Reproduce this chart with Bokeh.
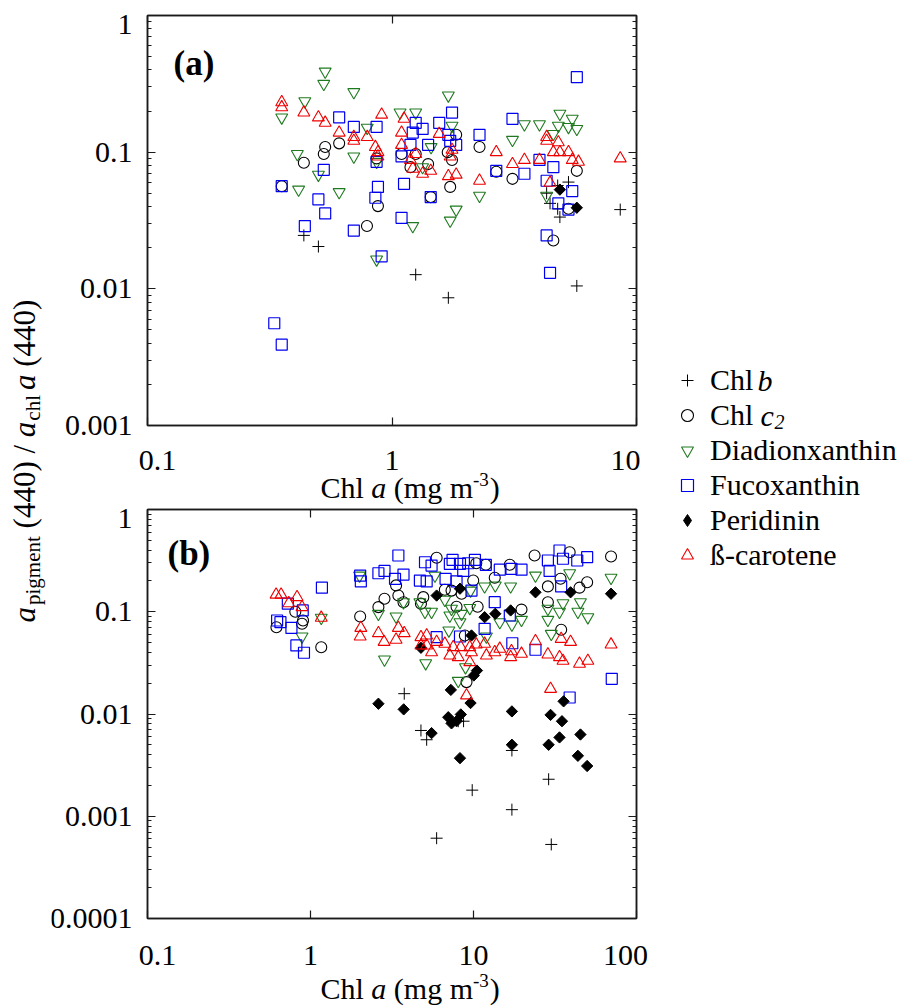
import math
from bokeh.plotting import figure
from bokeh.models import (Range1d, LogAxis, FixedTicker, CustomJSTickFormatter,
                          Label, Legend, LegendItem)
from bokeh.layouts import row, column
from bokeh.embed import file_html
from bokeh.resources import INLINE

FONT = "Liberation Serif"

# ---------------- data: panel (a) ----------------
a_chlb_x = [0.436, 0.50, 1.25, 1.70, 5.70, 5.27, 4.76, 4.29, 4.43, 4.76, 4.86, 8.58]
a_chlb_y = [0.0246, 0.0204, 0.0127, 0.0086, 0.0105, 0.0604, 0.057, 0.0501, 0.0422, 0.0385, 0.0335, 0.038]

a_chlc2_x = [0.608, 0.533, 0.526, 0.436, 0.354, 0.876, 0.79, 0.865, 1.83, 1.69, 1.76, 2.28, 1.094, 1.25,
             1.19, 1.405, 1.73, 1.44, 2.67, 3.11, 5.70, 5.27, 4.57]
a_chlc2_y = [0.116, 0.109, 0.097, 0.0836, 0.0564, 0.0403, 0.0288, 0.09, 0.134, 0.1, 0.0877, 0.109, 0.097, 0.097,
             0.0777, 0.0818, 0.0557, 0.0469, 0.072, 0.0638, 0.073, 0.0385, 0.0226]

a_diad_x = [0.533, 0.526, 0.698, 0.44, 0.354, 0.792, 1.079, 0.41, 0.698, 0.50, 0.865, 0.415, 0.608, 0.865,
            1.70, 1.25, 1.76, 1.445, 3.48, 4.01, 3.11, 4.86, 5.46, 5.70, 4.79, 5.27, 4.57, 1.334, 2.28, 1.83,
            1.73, 1.216, 4.29]
a_diad_y = [0.389, 0.316, 0.275, 0.236, 0.1795, 0.151, 0.195, 0.097, 0.093, 0.0684, 0.085, 0.0532, 0.051, 0.0164,
            0.26, 0.195, 0.156, 0.109, 0.16, 0.16, 0.123, 0.191, 0.1755, 0.148, 0.156, 0.153, 0.136, 0.0777, 0.048,
            0.038, 0.0316, 0.0288, 0.048]

a_fuco_x = [0.608, 0.698, 0.865, 0.526, 0.354, 0.50, 0.533, 0.876, 0.855, 0.44, 0.698, 0.865, 0.907, 0.33,
            0.354, 5.70, 1.76, 1.56, 1.25, 1.334, 1.216, 1.19, 1.094, 1.70, 1.73, 1.83, 2.28, 1.405, 3.11, 4.01,
            4.57, 3.48, 2.67, 4.29, 5.46, 1.12, 1.44, 1.094, 4.79, 5.27, 4.29, 4.43]
a_fuco_y = [0.1795, 0.153, 0.153, 0.0743, 0.0564, 0.0451, 0.0356, 0.0557, 0.0464, 0.0288, 0.0267, 0.085, 0.0173,
            0.0056, 0.0039, 0.354, 0.195, 0.164, 0.164, 0.148, 0.139, 0.113, 0.093, 0.134, 0.121, 0.113, 0.134,
            0.113, 0.1755, 0.0877, 0.0777, 0.0695, 0.073, 0.0618, 0.0519, 0.0587, 0.0469, 0.0331, 0.0422, 0.038,
            0.0246, 0.0131]

a_peri_x = [4.86, 5.70]
a_peri_y = [0.0532, 0.0392]

a_beta_x = [0.354, 0.354, 0.436, 0.50, 0.533, 0.907, 0.608, 0.698, 0.698, 0.792, 0.855, 0.876, 0.876, 1.12,
            1.094, 1.094, 1.19, 1.25, 1.216, 1.334, 1.44, 1.56, 1.76, 1.73, 1.70, 1.83, 2.28, 2.67, 3.11, 3.48,
            4.01, 4.29, 4.29, 4.79, 4.57, 4.86, 5.27, 5.46, 5.79, 4.43, 8.58]
a_beta_y = [0.232, 0.213, 0.195, 0.1795, 0.164, 0.188, 0.139, 0.129, 0.121, 0.129, 0.109, 0.1, 0.093, 0.1755,
            0.139, 0.113, 0.0877, 0.097, 0.0756, 0.0695, 0.073, 0.136, 0.104, 0.093, 0.0667, 0.0684, 0.0618, 0.1,
            0.0818, 0.0877, 0.0877, 0.129, 0.121, 0.118, 0.1, 0.1, 0.1, 0.0877, 0.085, 0.0597, 0.09]

# ---------------- data: panel (b) ----------------
b_chlb_x = [3.76, 4.76, 5.16, 8.06, 8.69, 17.2, 28.9, 9.82, 17.2, 5.94, 30.0]
b_chlb_y = [0.0158, 0.0069, 0.0056, 0.0085, 0.0085, 0.0044, 0.0023, 0.0018, 0.00116, 0.00061, 0.00053]

b_chlc2_x = [0.807, 0.90, 0.887, 0.618, 1.164, 2.017, 2.844, 2.61, 3.35, 3.46, 5.94, 10.4, 11.9, 9.96, 13.5,
             16.7, 23.7, 38.9, 69.8, 34.2, 28.6, 44.7, 49.8, 3.72, 4.92, 4.76, 6.67, 7.33, 8.45, 7.87, 10.6,
             19.7, 28.6, 34.5, 8.85, 9.06]
b_chlc2_y = [0.1, 0.0821, 0.0762, 0.0706, 0.045, 0.0899, 0.134, 0.111, 0.181, 0.144, 0.337, 0.298, 0.288, 0.202,
             0.215, 0.288, 0.355, 0.382, 0.347, 0.21, 0.177, 0.172, 0.194, 0.124, 0.139, 0.12, 0.164, 0.161, 0.15,
             0.112, 0.112, 0.105, 0.124, 0.0666, 0.0586, 0.0205]

b_diad_x = [0.887, 1.164, 2.0, 2.61, 3.35, 2.844, 5.80, 9.59, 11.7, 13.6, 16.9, 24.0, 38.9, 69.8, 3.72, 4.69,
            5.04, 5.53, 6.67, 7.33, 7.16, 8.45, 8.26, 9.49, 14.5, 17.2, 19.7, 28.6, 35.4, 33.7, 45.3, 43.7, 50.3,
            28.6, 30.0, 7.06, 12.0, 5.09, 8.93, 8.06]
b_diad_y = [0.0573, 0.0873, 0.226, 0.0955, 0.0899, 0.0341, 0.226, 0.161, 0.177, 0.181, 0.177, 0.226, 0.238, 0.215,
            0.124, 0.124, 0.1, 0.1, 0.131, 0.107, 0.0919, 0.0955, 0.0791, 0.109, 0.0791, 0.075, 0.0834, 0.107,
            0.121, 0.1, 0.124, 0.1, 0.0885, 0.0834, 0.0608, 0.0656, 0.0573, 0.0314, 0.0287, 0.0211]

b_fuco_x = [1.175, 0.726, 0.896, 0.624, 0.654, 0.764, 0.819, 0.912, 2.017, 2.036, 2.61, 2.844, 3.46, 3.30, 3.72,
            5.04, 5.53, 4.69, 5.16, 7.44, 7.16, 8.26, 9.28, 10.2, 11.9, 6.74, 7.87, 8.65, 9.72, 14.5, 17.1, 19.7,
            13.5, 16.7, 11.7, 5.94, 8.26, 17.3, 24.0, 28.6, 33.7, 35.4, 29.3, 34.5, 43.3, 49.8, 70.5, 38.9]
b_fuco_y = [0.172, 0.12, 0.103, 0.0821, 0.0791, 0.0695, 0.0468, 0.0397, 0.226, 0.198, 0.238, 0.251, 0.355, 0.21,
            0.231, 0.305, 0.283, 0.202, 0.198, 0.322, 0.294, 0.294, 0.298, 0.322, 0.288, 0.21, 0.198, 0.251, 0.161,
            0.258, 0.263, 0.258, 0.124, 0.0919, 0.0681, 0.0564, 0.0573, 0.0492, 0.0425, 0.317, 0.397, 0.33, 0.251,
            0.177, 0.317, 0.342, 0.0221, 0.0145]

b_peri_x = [5.94, 8.26, 24.0, 39.4, 69.8, 11.7, 13.6, 16.9, 9.72, 4.76, 10.5, 10.04, 7.26, 9.59, 2.61, 3.73,
            17.2, 35.7, 29.7, 34.9, 7.0, 8.36, 7.33, 7.87, 5.53, 17.2, 28.9, 33.7, 45.3, 8.26, 43.7, 49.8]
b_peri_y = [0.144, 0.168, 0.155, 0.155, 0.15, 0.0885, 0.0955, 0.103, 0.0586, 0.0444, 0.0266, 0.0238, 0.0172,
            0.0128, 0.0126, 0.0111, 0.0106, 0.0133, 0.0098, 0.0085, 0.0093, 0.0099, 0.0081, 0.0085, 0.0065, 0.005,
            0.005, 0.0059, 0.0063, 0.0037, 0.0039, 0.0031]

b_beta_x = [0.615, 0.66, 0.827, 0.736, 0.887, 1.164, 2.036, 2.017, 2.61, 2.827, 3.46, 3.35, 3.76, 4.76, 5.16,
            4.76, 5.16, 5.53, 5.94, 6.67, 7.51, 7.16, 8.36, 8.06, 9.49, 10.4, 9.72, 11.7, 12.0, 13.5, 14.5, 17.1,
            16.9, 19.7, 24.0, 28.6, 33.7, 35.4, 34.5, 39.4, 44.7, 50.3, 69.8, 29.7, 9.49, 9.06]
b_beta_y = [0.147, 0.147, 0.139, 0.121, 0.111, 0.0873, 0.0695, 0.0573, 0.0617, 0.0507, 0.0695, 0.0532, 0.0617,
            0.0564, 0.0586, 0.0468, 0.0468, 0.0402, 0.0507, 0.0486, 0.045, 0.0373, 0.045, 0.036, 0.045, 0.0478,
            0.0402, 0.0486, 0.0373, 0.0402, 0.0434, 0.0411, 0.036, 0.0388, 0.0515, 0.0382, 0.036, 0.0331, 0.0543,
            0.0507, 0.031, 0.0331, 0.0478, 0.0176, 0.0321, 0.0152]

# ---------------- axes / ticks ----------------
a_xrange = (0.1, 10)
a_yrange = (0.001, 1)
b_xrange = (0.1, 100)
b_yrange = (0.0001, 1)
a_xticks = [0.1, 1, 10]
a_xtick_labels = ["0.1", "1", "10"]
a_yticks = [0.001, 0.01, 0.1, 1]
a_ytick_labels = ["0.001", "0.01", "0.1", "1"]
b_xticks = [0.1, 1, 10, 100]
b_xtick_labels = ["0.1", "1", "10", "100"]
b_yticks = [0.0001, 0.001, 0.01, 0.1, 1]
b_ytick_labels = ["0.0001", "0.001", "0.01", "0.1", "1"]

keys = ["chlb", "chlc2", "diad", "fuco", "peri", "beta"]
series_names = ["Chl", "Chl", "Diadionxanthin", "Fucoxanthin", "Peridinin", "ß-carotene"]

STYLES = {
    "chlb": dict(marker="cross", size=12, line_color="black", line_width=1.0),
    "chlc2": dict(marker="circle", size=11, fill_color=None, line_color="black", line_width=1.1),
    "diad": dict(marker="inverted_triangle", size=12, fill_color=None, line_color="#1f7a1f", line_width=1.1),
    "fuco": dict(marker="square", size=11, fill_color=None, line_color="#0000ee", line_width=1.2),
    "peri": dict(marker="square", angle=math.pi / 4, size=8, fill_color="black", line_color="black"),
    "beta": dict(marker="triangle", size=12, fill_color=None, line_color="#ee0000", line_width=1.1),
}

# ---------------- layout geometry (pixels) ----------------
YT_W = 51            # y-title strip width
LB = 96              # left border to frame
FW = 489             # frame width
RB = 21              # right border
PW = LB + FW + RB    # 606
LEG_W = 905 - YT_W - PW
A_TOP, A_FH, A_BOT = 15, 410, 11
PA_H = A_TOP + A_FH + A_BOT          # 436
SA_H = 36                            # x tick labels of (a)
SXA_H = 32                           # x title of (a)
B_TOP, B_FH, B_BOT = 5, 409, 14
PB_H = B_TOP + B_FH + B_BOT          # 428
LBB_H = SXA_H + PB_H                 # 460
SB_H = 1006 - PA_H - SA_H - LBB_H    # 74

# Times/Liberation Serif advance widths (em)
W_REG = {' ': 0.25, '(': 0.333, ')': 0.333, '-': 0.333, '/': 0.278, 'C': 0.667, 'a': 0.444, 'c': 0.444,
         'g': 0.5, 'h': 0.5, 'i': 0.278, 'l': 0.278, 'm': 0.778, 'e': 0.444, 'n': 0.5, 'p': 0.5, 't': 0.278}
W_IT = {'a': 0.5, 'b': 0.5, 'c': 0.444, '2': 0.5}


def tw(s, size, italic=False):
    tot = 0.0
    for ch in s:
        tot += W_IT[ch] if (italic and ch in W_IT) else W_REG.get(ch, 0.5)
    return tot * size


def lab(p, **kw):
    base = dict(x_units="screen", y_units="screen", text_font=FONT, text_color="black",
                text_baseline="middle", text_align="left")
    base.update(kw)
    p.add_layout(Label(**base))


def rich(p, segs, x0, y0, vertical=False):
    pos = 0.0
    for text, size, style, d, gap in segs:
        pos += gap
        if vertical:
            lab(p, x=x0 + d, y=y0 + pos, text=text, angle=math.pi / 2,
                text_font_size=f"{size}px", text_font_style=style)
        else:
            lab(p, x=x0 + pos, y=y0 + d, text=text, text_font_size=f"{size}px", text_font_style=style)
        pos += tw(text, size, style == "italic")


XLABEL = [("Chl", 30, "normal", 0, 0), ("a", 30, "italic", 0, 7.5), ("(mg", 30, "normal", 0, 7.5),
          ("m", 30, "normal", 0, 7.5), ("-3", 19, "normal", 8.3, 0), (")", 30, "normal", 0, 1)]
YLABEL = [("a", 31, "italic", 0, 0), ("pigment", 21, "normal", 8.4, 2), ("(440)", 31, "normal", 0, 7.75),
          ("/", 31, "normal", 0, 7.75), ("a", 31, "italic", 0, 7.75), ("chl", 21, "normal", 8.4, 1),
          ("a", 31, "italic", 0, 5), ("(440)", 31, "normal", 0, 7.75)]


def minor_for(ticks):
    return [t * k for t in ticks[:-1] for k in range(2, 10)]


def no_align(p):
    if "frame_align" in p.properties():
        p.frame_align = False


def bare(width, height, **kw):
    p = figure(width=width, height=height, toolbar_location=None, output_backend="svg",
               min_border=0, x_axis_location=None, y_axis_location=None, outline_line_color=None, **kw)
    p.grid.visible = False
    no_align(p)
    return p


def style_axis(ax, ticks, minor):
    ax.ticker = FixedTicker(ticks=ticks, minor_ticks=minor)
    ax.formatter = CustomJSTickFormatter(code="return '';")
    ax.major_label_text_font_size = "0px"
    ax.major_label_standoff = 0
    ax.axis_line_color = "#1a1a1a"
    ax.axis_line_width = 1.5
    ax.major_tick_in = 8
    ax.major_tick_out = 0
    ax.minor_tick_in = 4
    ax.minor_tick_out = 0
    ax.major_tick_line_color = "#1a1a1a"
    ax.minor_tick_line_color = "#1a1a1a"
    ax.major_tick_line_width = 1.2


def make_panel(width, height, xr, yr, xt, yt, borders):
    bl, br, bt, bb = borders
    p = figure(width=width, height=height, x_axis_type="log", y_axis_type="log",
               x_range=Range1d(*xr), y_range=Range1d(*yr),
               toolbar_location=None, output_backend="svg",
               min_border_left=bl, min_border_right=br, min_border_top=bt, min_border_bottom=bb)
    p.grid.visible = False
    p.outline_line_color = "#1a1a1a"
    p.outline_line_width = 1.5
    style_axis(p.below[0], xt, [])
    style_axis(p.left[0], yt, minor_for(yt))
    tx = LogAxis()
    ry = LogAxis()
    style_axis(tx, xt, [])
    style_axis(ry, yt, minor_for(yt))
    p.add_layout(tx, "above")
    p.add_layout(ry, "right")
    return p


def add_data(p, data):
    for key, xs, ys in data:
        p.scatter(xs, ys, **STYLES[key])


def ytick_strip(height, yr, ticks, labels, above, below, frame_h):
    dec = frame_h / (math.log10(yr[1]) - math.log10(yr[0]))
    hi = 10 ** (math.log10(yr[1]) + above / dec)
    lo = 10 ** (math.log10(yr[0]) - below / dec)
    s = bare(LB - 1, height, y_axis_type="log", y_range=Range1d(lo, hi), x_range=Range1d(0, LB - 1))
    n = len(ticks)
    for i, (t, txt) in enumerate(zip(ticks, labels)):
        off = -9 if i == n - 1 else 0
        lab(s, x=LB - 1 - 14, y=t, y_units="data", text=txt, text_align="right", y_offset=off,
            text_font_size="30px")
    return s


def xtick_strip(height, xr, ticks, labels, y):
    dec = FW / (math.log10(xr[1]) - math.log10(xr[0]))
    s = bare(PW, height, x_axis_type="log",
             x_range=Range1d(10 ** (math.log10(xr[0]) - LB / dec), 10 ** (math.log10(xr[1]) + RB / dec)),
             y_range=Range1d(0, height))
    n = len(ticks)
    for i, (t, txt) in enumerate(zip(ticks, labels)):
        off = 10 if i == 0 else (-11 if i == n - 1 else 0)
        lab(s, x=t, y=y, x_units="data", text=txt, text_align="center", x_offset=off, text_font_size="30px")
    return s


# ---- panel (a)
lba = ytick_strip(PA_H, a_yrange, a_yticks, a_ytick_labels, A_TOP, A_BOT, A_FH)
pa = make_panel(PW - LB + 1, PA_H, a_xrange, a_yrange, a_xticks, a_yticks, (1, RB, A_TOP, A_BOT))
add_data(pa, [("chlb", a_chlb_x, a_chlb_y), ("chlc2", a_chlc2_x, a_chlc2_y), ("diad", a_diad_x, a_diad_y),
              ("fuco", a_fuco_x, a_fuco_y), ("peri", a_peri_x, a_peri_y), ("beta", a_beta_x, a_beta_y)])
lab(pa, x=26, y=A_FH - 48, text="(a)", text_font_size="35px", text_font_style="bold")
sa = xtick_strip(SA_H, a_xrange, a_xticks, a_xtick_labels, 12)

# ---- panel (b)
lbb = ytick_strip(LBB_H, b_yrange, b_yticks, b_ytick_labels, SXA_H + B_TOP, B_BOT, B_FH)
sxa = bare(PW - LB + 1, SXA_H)
rich(sxa, XLABEL, 174, 17)          # x title of panel (a)
pb = make_panel(PW - LB + 1, PB_H, b_xrange, b_yrange, b_xticks, b_yticks, (1, RB, B_TOP, B_BOT))
add_data(pb, [("chlb", b_chlb_x, b_chlb_y), ("chlc2", b_chlc2_x, b_chlc2_y), ("diad", b_diad_x, b_diad_y),
              ("fuco", b_fuco_x, b_fuco_y), ("peri", b_peri_x, b_peri_y), ("beta", b_beta_x, b_beta_y)])
lab(pb, x=20, y=B_FH - 44, text="(b)", text_font_size="35px", text_font_style="bold")
sb = xtick_strip(SB_H, b_xrange, b_xticks, b_xtick_labels, 51)
rich(sb, XLABEL, 269, 18)           # x title of panel (b)

# ---- y title strip
ylab = bare(YT_W, 1006)
rich(ylab, YLABEL, 24, 384, vertical=True)

# ---- legend strip (legend glyphs taken from panel-a renderers drawn off-view)
leg = bare(LEG_W, 1006, x_range=Range1d(-2, -1), y_range=Range1d(-2, -1))
items = []
a_series = {"chlb": (a_chlb_x, a_chlb_y), "chlc2": (a_chlc2_x, a_chlc2_y), "diad": (a_diad_x, a_diad_y),
            "fuco": (a_fuco_x, a_fuco_y), "peri": (a_peri_x, a_peri_y), "beta": (a_beta_x, a_beta_y)}
for key, name in zip(keys, series_names):
    st = dict(STYLES[key])
    if key == "peri":
        st = dict(marker="diamond", size=14, fill_color="black", line_color="black")
    xs, ys = a_series[key]
    r = leg.scatter(xs, ys, **st)
    items.append(LegendItem(label=name, renderers=[r]))
LEG_BOTTOM = 434
ITEM_H = 34
SPACING = 1
legend = Legend(items=items, location=(15, LEG_BOTTOM), orientation="vertical",
                glyph_width=30, glyph_height=30, label_height=ITEM_H, label_standoff=8,
                spacing=SPACING, padding=0, margin=0, border_line_color=None,
                background_fill_alpha=0, label_text_font=FONT, label_text_font_size="30px",
                label_text_color="black")
leg.add_layout(legend)
top = LEG_BOTTOM + 6 * ITEM_H + 5 * SPACING
yc1 = top - ITEM_H / 2
yc2 = yc1 - (ITEM_H + SPACING)
lab(leg, x=100, y=yc1, text="b", text_font_size="30px", text_font_style="italic")
lab(leg, x=103, y=yc2, text="c", text_font_size="30px", text_font_style="italic")
lab(leg, x=117, y=yc2 - 6, text="2", text_font_size="20px", text_font_style="italic")

layout = row(ylab,
             column(row(lba, pa), sa, row(lbb, column(sxa, pb)), sb),
             leg)
open("out.html", "w").write(file_html(layout, INLINE))
